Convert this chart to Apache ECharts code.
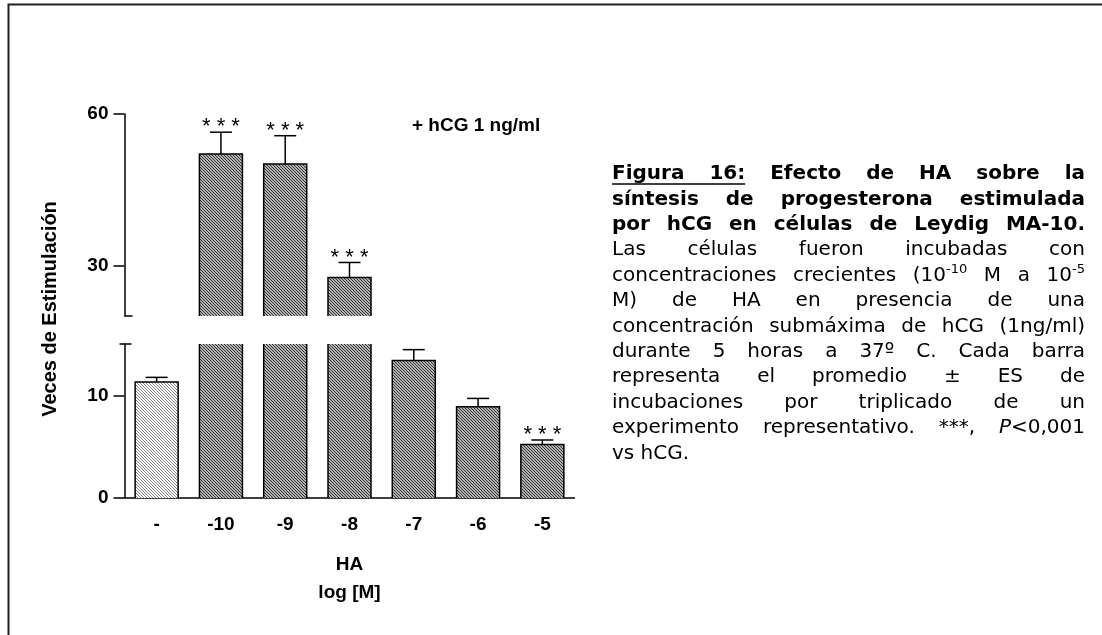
<!DOCTYPE html>
<html><head><meta charset="utf-8">
<script src="https://cdn.jsdelivr.net/npm/echarts@6/dist/echarts.min.js"></script>
<style>html,body{margin:0;padding:0;background:#fff}#c{width:1102px;height:635px}</style>
</head><body><div id="c"></div>
<script>
// ---------- data ----------
const categories = ['-', '-10', '-9', '-8', '-7', '-6', '-5'];
const values = [11.3, 52.1, 50.1, 27.6, 13.4, 8.9, 5.2];
const errors = [0.45, 4.3, 5.6, 3.0, 1.05, 0.8, 0.45];
const significance = ['', '***', '***', '***', '', '', '***'];
const upperRange = [20, 60];
const lowerRange = [0, 15];
const upperTicks = [30, 60];
const lowerTicks = [0, 10];
const xName = 'HA\nlog [M]';
const yName = 'Veces de Estimulación';
const noteText = '+ hCG 1 ng/ml';
const captionLines = [
  'Figura 16: Efecto de HA sobre la',
  'síntesis de progesterona estimulada',
  'por hCG en células de Leydig MA-10.',
  'Las células fueron incubadas con',
  'concentraciones crecientes (10<s>-10</s> M a 10<s>-5</s>',
  'M) de HA en presencia de una',
  'concentración submáxima de hCG (1ng/ml)',
  'durante 5 horas a 37º C. Cada barra',
  'representa el promedio ± ES de',
  'incubaciones por triplicado de un',
  'experimento representativo. ***, <i>P</i><0,001',
  'vs hCG.'
];
const captionBoldLines = 3;
const captionUnderlineWords = 2;

// ---------- styles ----------
const AX = 'Liberation Sans';
const CF = 'DejaVu Sans';
const BAR_W = 43;
function hatch(bg, fg) {
  const c = document.createElement('canvas'); c.width = 3; c.height = 3;
  const g = c.getContext('2d'); g.fillStyle = bg; g.fillRect(0, 0, 3, 3); g.fillStyle = fg;
  for (let k = 0; k < 3; k++) g.fillRect(k, k, 1, 1);
  return c;
}
const lightFill = { image: hatch('#ffffff', '#8a8a8a'), repeat: 'repeat' };
const darkFill = { image: hatch('#b0b0b0', '#383838'), repeat: 'repeat' };
const barStyle = i => ({ color: i === 0 ? lightFill : darkFill, borderWidth: 0 });

const chart = echarts.init(document.getElementById('c'), null, { renderer: 'canvas' });

function renderErr(params, api) {
  const ci = api.value(0), v = api.value(1), top = api.value(2);
  const p0 = api.coord([ci, v]);
  const p1 = api.coord([ci, top]);
  const half = 11;
  const children = [
    { type: 'line', shape: { x1: p0[0], y1: p0[1], x2: p1[0], y2: p1[1] }, style: { stroke: '#000', lineWidth: 1.5 } },
    { type: 'line', shape: { x1: p1[0] - half, y1: p1[1], x2: p1[0] + half, y2: p1[1] }, style: { stroke: '#000', lineWidth: 1.5 } }
  ];
  const s = significance[ci];
  if (s) {
    children.push({ type: 'text', x: p1[0], y: p1[1] - 5,
      style: { text: s.split('').join(' '), fontSize: 22, fontFamily: AX, fill: '#000', align: 'center', verticalAlign: 'middle' } });
  }
  return { type: 'group', children };
}

// bar outlines: open at the axis break
function makeOutline(range) {
  return function (params, api) {
    const ci = api.value(0), v = api.value(1);
    const lo = range[0], hi = range[1];
    if (!(v > lo)) return null;
    const topV = Math.min(v, hi);
    const pTop = api.coord([ci, topV]);
    const pBot = api.coord([ci, lo]);
    const xl = pTop[0] - BAR_W / 2, xr = pTop[0] + BAR_W / 2;
    const st = { stroke: '#000', lineWidth: 1.5, fill: null };
    const children = [];
    if (v <= hi) {
      children.push({ type: 'polyline', shape: { points: [[xl, pBot[1]], [xl, pTop[1]], [xr, pTop[1]], [xr, pBot[1]]] }, style: st });
    } else {
      children.push({ type: 'line', shape: { x1: xl, y1: pBot[1], x2: xl, y2: pTop[1] }, style: st });
      children.push({ type: 'line', shape: { x1: xr, y1: pBot[1], x2: xr, y2: pTop[1] }, style: st });
    }
    return { type: 'group', children };
  };
}

const upperBars = values.map((v, i) => ({ value: v > upperRange[0] ? v : '-', itemStyle: barStyle(i) }));
const lowerBars = values.map((v, i) => ({ value: v, itemStyle: barStyle(i) }));
const outlineData = values.map((v, i) => [i, v]);
const upperErr = [], lowerErr = [];
values.forEach((v, i) => {
  const item = [i, v, v + errors[i]];
  if (v > upperRange[0]) upperErr.push(item); else lowerErr.push(item);
});

const labelStyle = { color: '#000', fontSize: 19, fontWeight: 'bold', fontFamily: AX };
const blackLine = { color: '#000', width: 1.5 };

// ---------- caption layout ----------
const mctx = document.createElement('canvas').getContext('2d');
const CAP_X0 = 612, CAP_X1 = 1085, CAP_Y0 = 174, CAP_LH = 25.4, CAP_FS = 20, SUP_FS = 13;
function fontStr(seg) { return (seg.italic ? 'italic ' : '') + (seg.bold ? 'bold ' : '') + seg.size + 'px "' + CF + '"'; }
function measure(seg) { mctx.font = fontStr(seg); return mctx.measureText(seg.text).width; }
const graphics = [];
captionLines.forEach((line, li) => {
  const bold = li < captionBoldLines;
  const words = line.split(' ').map(w => {
    const parts = w.split(/(<s>.*?<\/s>|<i>.*?<\/i>)/).filter(p => p.length);
    const segs = parts.map(p => {
      let m;
      if ((m = p.match(/^<s>(.*)<\/s>$/))) return { text: m[1], bold, size: SUP_FS, sup: true };
      if ((m = p.match(/^<i>(.*)<\/i>$/))) return { text: m[1], bold, size: CAP_FS, italic: true };
      return { text: p, bold, size: CAP_FS };
    });
    segs.forEach(s => s.w = measure(s));
    return { segs, w: segs.reduce((a, s) => a + s.w, 0) };
  });
  const total = words.reduce((a, w) => a + w.w, 0);
  const last = li === captionLines.length - 1;
  const gap = (!last && words.length > 1) ? (CAP_X1 - CAP_X0 - total) / (words.length - 1)
    : measure({ text: ' ', bold, size: CAP_FS });
  const y = CAP_Y0 + li * CAP_LH;
  let x = CAP_X0;
  let ulEnd = CAP_X0;
  words.forEach((w, wi) => {
    let sx = x;
    w.segs.forEach(s => {
      graphics.push({ type: 'text', x: sx, y: s.sup ? y - 6 : y, silent: true,
        style: { text: s.text, fontSize: s.size, fontFamily: CF, fontWeight: s.bold ? 'bold' : 'normal',
          fontStyle: s.italic ? 'italic' : 'normal', fill: '#000', align: 'left', verticalAlign: 'middle' } });
      sx += s.w;
    });
    if (li === 0 && wi < captionUnderlineWords) ulEnd = x + w.w;
    x += w.w + gap;
  });
  if (li === 0) {
    graphics.push({ type: 'line', silent: true, shape: { x1: CAP_X0, y1: y + 10, x2: ulEnd, y2: y + 10 },
      style: { stroke: '#000', lineWidth: 1.5 } });
  }
});
// frame
graphics.push({ type: 'polyline', silent: true, shape: { points: [[8.5, 635], [8.5, 4.5], [1102, 4.5]] },
  style: { stroke: '#222', lineWidth: 2, fill: null } });
// y name
graphics.push({ type: 'text', x: 50, y: 309, rotation: Math.PI / 2, silent: true,
  style: { text: yName, fontSize: 20, fontWeight: 'bold', fontFamily: AX, fill: '#000', align: 'center', verticalAlign: 'middle' } });
// note
graphics.push({ type: 'text', x: 412, y: 126, silent: true,
  style: { text: noteText, fontSize: 19, fontWeight: 'bold', fontFamily: AX, fill: '#000', align: 'left', verticalAlign: 'middle' } });

const option = {
  animation: false,
  backgroundColor: '#fff',
  grid: [
    { left: 124.5, top: 114, width: 450, height: 202 },
    { left: 124.5, top: 344, width: 450, height: 154 }
  ],
  xAxis: [
    { gridIndex: 0, type: 'category', data: categories, show: false },
    { gridIndex: 1, type: 'category', data: categories,
      axisLine: { lineStyle: blackLine }, axisTick: { show: false },
      axisLabel: Object.assign({ margin: 17 }, labelStyle),
      name: xName, nameLocation: 'middle', nameGap: 53,
      nameTextStyle: Object.assign({ lineHeight: 28 }, labelStyle) }
  ],
  yAxis: [
    { gridIndex: 0, type: 'value', min: upperRange[0], max: upperRange[1], position: 'left',
      axisLine: { show: true, lineStyle: blackLine },
      axisTick: { show: true, length: 11, customValues: upperTicks, lineStyle: blackLine },
      axisLabel: Object.assign({ customValues: upperTicks, margin: 16 }, labelStyle),
      splitLine: { show: false } },
    { gridIndex: 0, type: 'value', min: upperRange[0], max: upperRange[1], position: 'left',
      axisLine: { show: false },
      axisTick: { show: true, inside: true, length: 8, customValues: [upperRange[0]], lineStyle: blackLine },
      axisLabel: { show: false }, splitLine: { show: false } },
    { gridIndex: 1, type: 'value', min: lowerRange[0], max: lowerRange[1], position: 'left',
      axisLine: { show: true, lineStyle: blackLine },
      axisTick: { show: true, length: 11, customValues: lowerTicks, lineStyle: blackLine },
      axisLabel: Object.assign({ customValues: lowerTicks, margin: 16 }, labelStyle),
      splitLine: { show: false } },
    { gridIndex: 1, type: 'value', min: lowerRange[0], max: lowerRange[1], position: 'left',
      axisLine: { show: false },
      axisTick: { show: true, inside: true, length: 7, customValues: [lowerRange[1]], lineStyle: blackLine },
      axisLabel: { show: false }, splitLine: { show: false } },
    { gridIndex: 1, type: 'value', min: lowerRange[0], max: lowerRange[1], position: 'left',
      axisLine: { show: false },
      axisTick: { show: true, length: 5, customValues: [lowerRange[1]], lineStyle: blackLine },
      axisLabel: { show: false }, splitLine: { show: false } }
  ],
  series: [
    { type: 'bar', xAxisIndex: 0, yAxisIndex: 0, data: upperBars, barWidth: BAR_W, clip: true },
    { type: 'bar', xAxisIndex: 1, yAxisIndex: 2, data: lowerBars, barWidth: BAR_W, clip: true },
    { type: 'custom', xAxisIndex: 0, yAxisIndex: 0, data: outlineData, renderItem: makeOutline(upperRange), z: 4 },
    { type: 'custom', xAxisIndex: 1, yAxisIndex: 2, data: outlineData, renderItem: makeOutline(lowerRange), z: 4 },
    { type: 'custom', xAxisIndex: 0, yAxisIndex: 0, data: upperErr, renderItem: renderErr, z: 5 },
    { type: 'custom', xAxisIndex: 1, yAxisIndex: 2, data: lowerErr, renderItem: renderErr, z: 5 }
  ],
  graphic: graphics
};
chart.setOption(option);
</script></body></html>
